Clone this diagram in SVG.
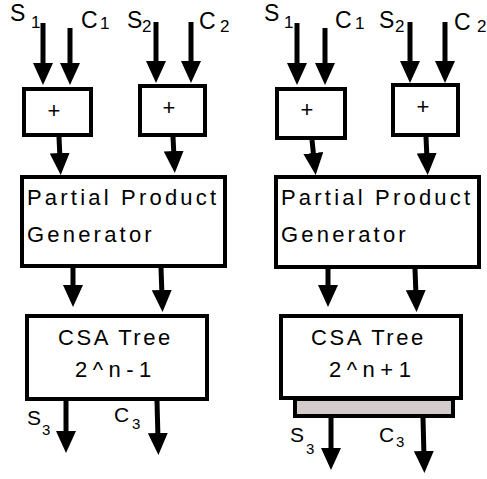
<svg xmlns="http://www.w3.org/2000/svg" width="487" height="479" viewBox="0 0 487 479">
<style>
.box{fill:#fff;stroke:#000;stroke-width:4}
.bar{fill:#d4cccc;stroke:#000;stroke-width:4}
.ln{stroke:#000;stroke-width:5;fill:none;marker-end:url(#ah)}
text{font-family:"Liberation Sans",Arial,sans-serif;fill:#000}
.lab{font-size:23px}
.sub{font-size:17px}
.lab2{font-size:21px}
.sub2{font-size:15px}
.plus{font-size:22px;text-anchor:middle}
.big{font-size:22px;letter-spacing:3.2px}
.csa{font-size:22px;letter-spacing:2.6px}
.eq{font-size:22px;letter-spacing:5.5px}
</style>
<defs>
<marker id="ah" markerUnits="userSpaceOnUse" markerWidth="22" markerHeight="20" refX="6" refY="10" orient="auto" viewBox="0 0 22 20">
<path d="M0,0 L22,10 L0,20 z" fill="#000"/>
</marker>
</defs>
<g id="connectors">
<line class="ln" x1="43" y1="23" x2="43" y2="69"/>
<line class="ln" x1="70" y1="28" x2="70" y2="69"/>
<line class="ln" x1="59" y1="137" x2="60" y2="159"/>
<line class="ln" x1="156" y1="22" x2="156" y2="67"/>
<line class="ln" x1="191" y1="22" x2="191" y2="67"/>
<line class="ln" x1="173" y1="137" x2="174" y2="157"/>
<line class="ln" x1="73" y1="268" x2="73" y2="291"/>
<line class="ln" x1="161" y1="268" x2="162" y2="296"/>
<line class="ln" x1="66" y1="401" x2="66" y2="437"/>
<line class="ln" x1="157" y1="401" x2="158" y2="439"/>
<line class="ln" x1="297" y1="23" x2="297" y2="69"/>
<line class="ln" x1="325" y1="28" x2="325" y2="69"/>
<line class="ln" x1="312" y1="140" x2="314" y2="159"/>
<line class="ln" x1="410" y1="22" x2="410" y2="67"/>
<line class="ln" x1="445" y1="22" x2="445" y2="67"/>
<line class="ln" x1="426" y1="137" x2="427" y2="159"/>
<line class="ln" x1="328" y1="269" x2="328" y2="291"/>
<line class="ln" x1="415" y1="269" x2="416" y2="296"/>
<line class="ln" x1="331" y1="418" x2="331" y2="454"/>
<line class="ln" x1="423" y1="418" x2="424" y2="457"/>
</g>
<g id="labels">
<text class="lab" x="10" y="21">S</text><text class="sub" x="31" y="28">1</text>
<text class="lab" x="81" y="28">C</text><text class="sub" x="100" y="29">1</text>
<text class="lab" x="127" y="28">S</text><text class="sub" x="142" y="32">2</text>
<text class="lab" x="199" y="29">C</text><text class="sub" x="220" y="32">2</text>
<text class="lab" x="264" y="21">S</text><text class="sub" x="284" y="28">1</text>
<text class="lab" x="379" y="28">S</text><text class="sub" x="395" y="32">2</text>
<text class="lab" x="335" y="28">C</text><text class="sub" x="355" y="29">1</text>
<text class="lab" x="454" y="30">C</text><text class="sub" x="477" y="32">2</text>
<text class="lab2" x="27" y="425">S</text><text class="sub2" x="42" y="435">3</text>
<text class="lab2" x="114" y="422">C</text><text class="sub2" x="132" y="429">3</text>
<text class="lab2" x="290" y="442">S</text><text class="sub2" x="306" y="454">3</text>
<text class="lab2" x="379" y="442">C</text><text class="sub2" x="396" y="447">3</text>
</g>
<g id="add-l1"><rect class="box" x="24" y="89" width="67" height="46"/><text class="plus" x="54" y="118">+</text></g>
<g id="add-l2"><rect class="box" x="140" y="86" width="65" height="49"/><text class="plus" x="169" y="115">+</text></g>
<g id="ppg-l"><rect class="box" x="22" y="177" width="203" height="89"/><text class="big" x="27" y="205">Partial Product</text><text class="big" x="27" y="242">Generator</text></g>
<g id="csa-l"><rect class="box" x="27" y="316" width="180" height="83"/><text class="csa" x="58" y="345">CSA Tree</text><text class="eq" x="75" y="377">2^n-1</text></g>
<g id="add-r1"><rect class="box" x="277" y="89" width="68" height="49"/><text class="plus" x="307" y="117">+</text></g>
<g id="add-r2"><rect class="box" x="393" y="85" width="65" height="50"/><text class="plus" x="423" y="114">+</text></g>
<g id="ppg-r"><rect class="box" x="276" y="177" width="203" height="90"/><text class="big" x="281" y="205">Partial Product</text><text class="big" x="281" y="242">Generator</text></g>
<g id="csa-r"><rect class="box" x="281" y="316" width="180" height="82"/><text class="csa" x="311" y="345">CSA Tree</text><text class="eq" x="329" y="377">2^n+1</text></g>
<g id="bar-r"><rect class="bar" x="295" y="399" width="158" height="17"/></g>
</svg>
